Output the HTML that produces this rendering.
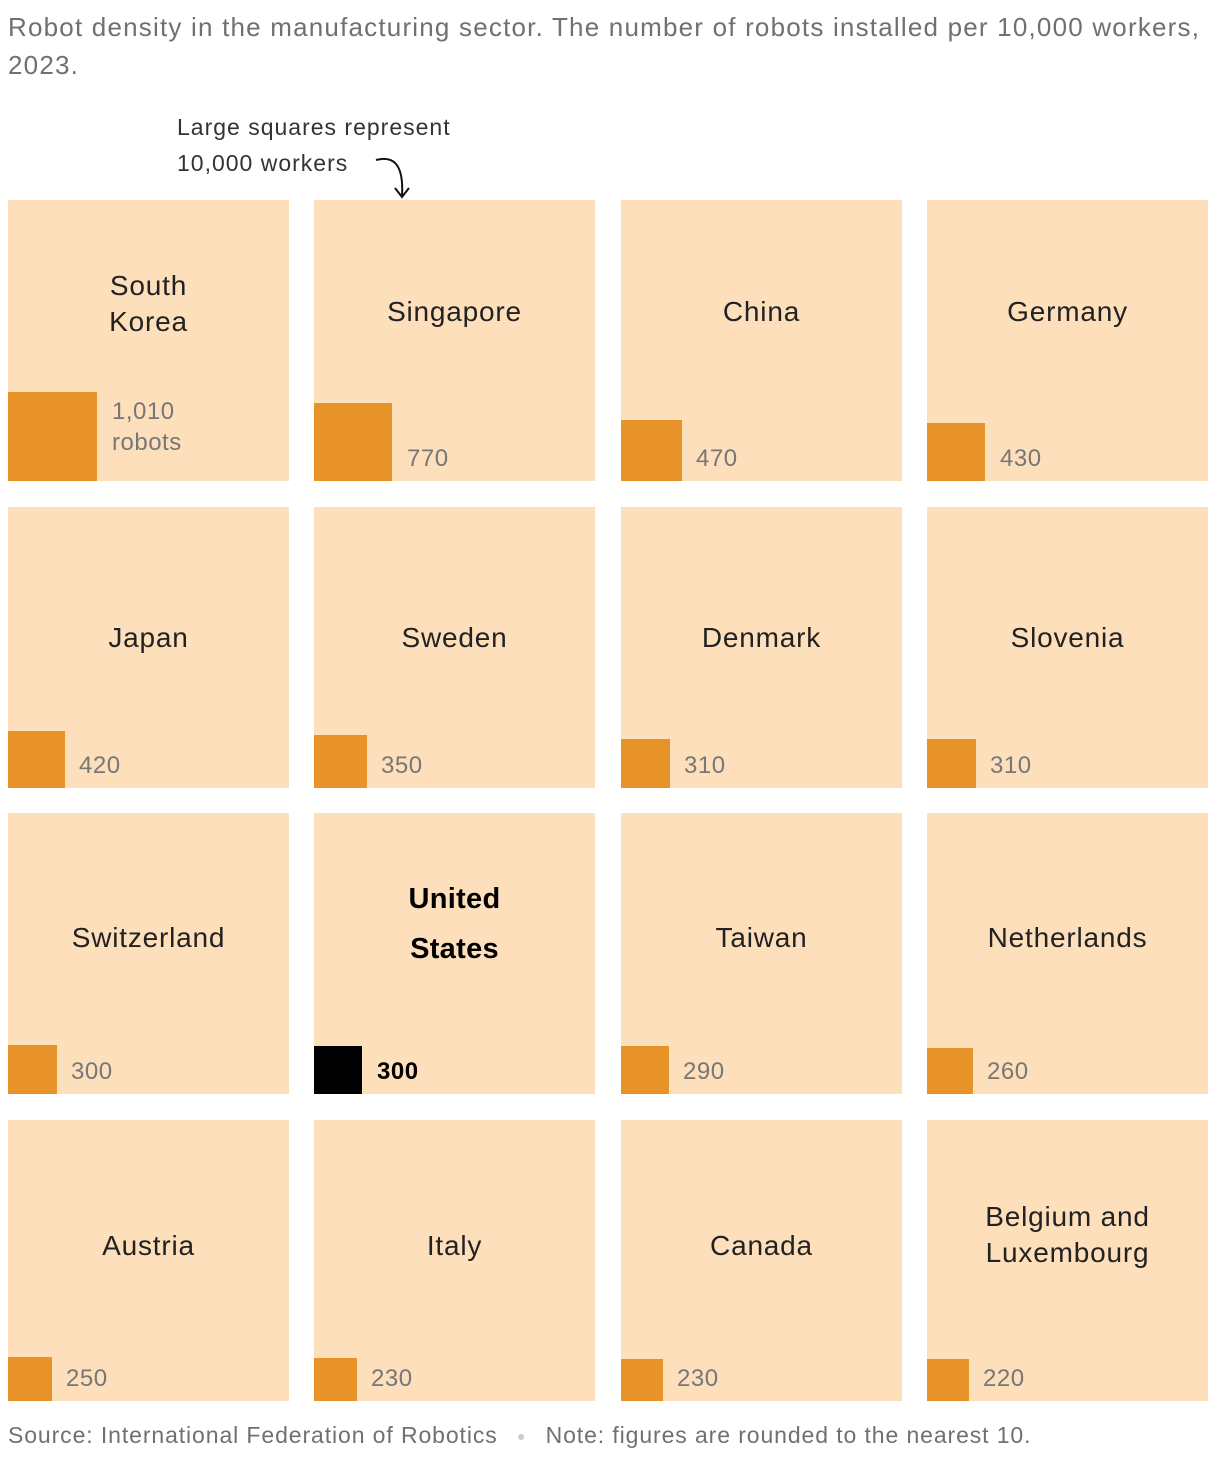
<!DOCTYPE html>
<html><head><meta charset="utf-8"><style>
body{margin:0;width:1214px;height:1458px;background:#fff;position:relative;font-family:"Liberation Sans",sans-serif;overflow:hidden}
.a{position:absolute}
.t{position:absolute;width:281px;height:281px;background:#fddfbb}
.s{position:absolute;left:0;bottom:0;background:#e8922a}
.n{position:absolute;left:0;width:281px;text-align:center;font-size:28px;line-height:36px;color:#222;letter-spacing:0.8px}
.v{position:absolute;font-size:24px;line-height:24px;color:#777;top:247px;letter-spacing:0.5px}
</style></head><body>
<div class="a" style="left:8px;top:8px;font-size:26px;line-height:38px;color:#707070;width:1200px;letter-spacing:1.2px">Robot density in the manufacturing sector. The number of robots installed per 10,000 workers, 2023.</div>
<div class="a" style="left:177px;top:109px;font-size:23px;line-height:36px;color:#333;letter-spacing:1px">Large squares represent<br>10,000 workers</div>
<svg class="a" style="left:370px;top:150px" width="50" height="52"><path d="M6 10 C22 6 34 12 32 46" fill="none" stroke="#111" stroke-width="2"/><path d="M25 38 L32 47 L39 38" fill="none" stroke="#111" stroke-width="2"/></svg>

<div class="t" style="left:8px;top:200px"><div class="n" style="top:68px">South<br>Korea</div><div class="s" style="width:89px;height:89px"></div><div class="v" style="left:104px;top:196px;line-height:31px">1,010<br>robots</div></div>
<div class="t" style="left:314px;top:200px"><div class="n" style="top:94px">Singapore</div><div class="s" style="width:78px;height:78px"></div><div class="v" style="left:93px">770</div></div>
<div class="t" style="left:621px;top:200px"><div class="n" style="top:94px">China</div><div class="s" style="width:61px;height:61px"></div><div class="v" style="left:75px">470</div></div>
<div class="t" style="left:927px;top:200px"><div class="n" style="top:94px">Germany</div><div class="s" style="width:58px;height:58px"></div><div class="v" style="left:73px">430</div></div>

<div class="t" style="left:8px;top:507px"><div class="n" style="top:113px">Japan</div><div class="s" style="width:57px;height:57px"></div><div class="v" style="left:71px">420</div></div>
<div class="t" style="left:314px;top:507px"><div class="n" style="top:113px">Sweden</div><div class="s" style="width:53px;height:53px"></div><div class="v" style="left:67px">350</div></div>
<div class="t" style="left:621px;top:507px"><div class="n" style="top:113px">Denmark</div><div class="s" style="width:49px;height:49px"></div><div class="v" style="left:63px">310</div></div>
<div class="t" style="left:927px;top:507px"><div class="n" style="top:113px">Slovenia</div><div class="s" style="width:49px;height:49px"></div><div class="v" style="left:63px">310</div></div>

<div class="t" style="left:8px;top:813px"><div class="n" style="top:107px">Switzerland</div><div class="s" style="width:49px;height:49px"></div><div class="v" style="left:63px">300</div></div>
<div class="t" style="left:314px;top:813px"><div class="n" style="top:61px;font-weight:bold;color:#000;line-height:50px;font-size:29px;letter-spacing:0.3px">United<br>States</div><div class="s" style="width:48px;height:48px;background:#000"></div><div class="v" style="left:63px;color:#000;font-weight:bold">300</div></div>
<div class="t" style="left:621px;top:813px"><div class="n" style="top:107px">Taiwan</div><div class="s" style="width:48px;height:48px"></div><div class="v" style="left:62px">290</div></div>
<div class="t" style="left:927px;top:813px"><div class="n" style="top:107px">Netherlands</div><div class="s" style="width:46px;height:46px"></div><div class="v" style="left:60px">260</div></div>

<div class="t" style="left:8px;top:1120px"><div class="n" style="top:108px">Austria</div><div class="s" style="width:44px;height:44px"></div><div class="v" style="left:58px">250</div></div>
<div class="t" style="left:314px;top:1120px"><div class="n" style="top:108px">Italy</div><div class="s" style="width:43px;height:43px"></div><div class="v" style="left:57px">230</div></div>
<div class="t" style="left:621px;top:1120px"><div class="n" style="top:108px">Canada</div><div class="s" style="width:42px;height:42px"></div><div class="v" style="left:56px">230</div></div>
<div class="t" style="left:927px;top:1120px"><div class="n" style="top:79px">Belgium and<br>Luxembourg</div><div class="s" style="width:42px;height:42px"></div><div class="v" style="left:56px">220</div></div>

<div class="a" style="left:8px;top:1421px;font-size:23px;line-height:28px;color:#707070;white-space:nowrap;letter-spacing:0.9px">Source: International Federation of Robotics <span style="color:#ccc;font-size:14px;margin:0 12px;vertical-align:2px">●</span> Note: figures are rounded to the nearest 10.</div>
</body></html>
